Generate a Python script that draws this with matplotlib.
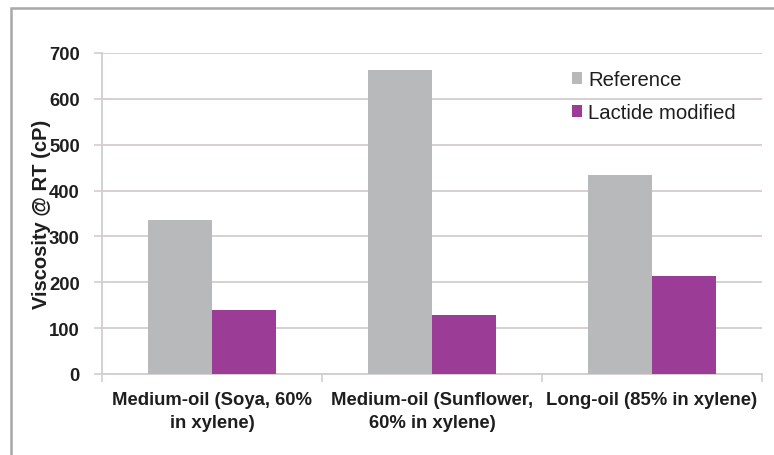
import matplotlib
matplotlib.use("Agg")
import matplotlib.pyplot as plt
import numpy as np
from matplotlib.patches import Rectangle

plt.rcParams['font.family'] = ['Liberation Sans', 'DejaVu Sans']

categories = ["Medium-oil (Soya, 60%\nin xylene)",
              "Medium-oil (Sunflower,\n60% in xylene)",
              "Long-oil (85% in xylene)"]
reference = [335, 663, 435]
lactide_modified = [140, 128, 213]
series_names = ["Reference", "Lactide modified"]
yticks = [0, 100, 200, 300, 400, 500, 600, 700]

grey = "#b7b9ba"
purple = "#9b3d96"
grid_col = "#d4cdcd"
text_col = "#1e1e1e"

W, H = 774, 456
fig = plt.figure(figsize=(W / 100, H / 100), dpi=100)
fig.patch.set_facecolor("white")

# outer frame of the chart box
fig.patches.append(Rectangle((11 / W, -0.1), 1.2, (H - 9) / H + 0.1,
                             transform=fig.transFigure, fill=False,
                             edgecolor="#a8a8a8", linewidth=1.8))

ax = fig.add_axes([102 / W, (H - 375) / H, 660 / W, (375 - 54) / H])
x = np.arange(len(categories))
bw = 0.289
ax.bar(x - bw / 2, reference, bw, color=grey, label=series_names[0], zorder=3)
ax.bar(x + bw / 2, lactide_modified, bw, color=purple, label=series_names[1], zorder=3)

ax.set_xlim(-0.5, len(categories) - 0.5)
ax.set_ylim(0, 700)
ax.set_yticks(yticks)
ax.set_yticklabels([str(v) for v in yticks], fontsize=13.3, fontweight="bold", color=text_col)
ax.yaxis.grid(True, color=grid_col, linewidth=1.3, zorder=0)
ax.set_axisbelow(True)

ax.set_xticks(x)
ax.set_xticklabels(categories, fontsize=13.3, fontweight="bold", color=text_col,
                   linespacing=1.45)
ax.tick_params(axis="x", length=0, pad=12)
ax.set_xticks(np.arange(-0.5, len(categories), 1.0), minor=True)
ax.tick_params(axis="x", which="minor", length=6, color=grid_col, width=1.2)
ax.tick_params(axis="y", length=6, color=grid_col, width=1.2, pad=10)

for s in ["top", "right"]:
    ax.spines[s].set_visible(False)
for s in ["left", "bottom"]:
    ax.spines[s].set_color(grid_col)
    ax.spines[s].set_linewidth(1.3)

ax.set_ylabel("Viscosity @ RT (cP)", fontsize=14.5, fontweight="bold", color=text_col)
ax.yaxis.set_label_coords((51 - 102) / 660, (375 - 214) / (375 - 54))

leg = ax.legend(loc="upper left", bbox_to_anchor=((564 - 102) / 660, (375 - 63) / (375 - 54)),
                frameon=False, fontsize=14.6, handlelength=0.5, handleheight=0.5,
                handletextpad=0.3, labelspacing=0.7, borderaxespad=0)
for t in leg.get_texts():
    t.set_color(text_col)

fig.savefig("out.png", dpi=100, facecolor="white")
